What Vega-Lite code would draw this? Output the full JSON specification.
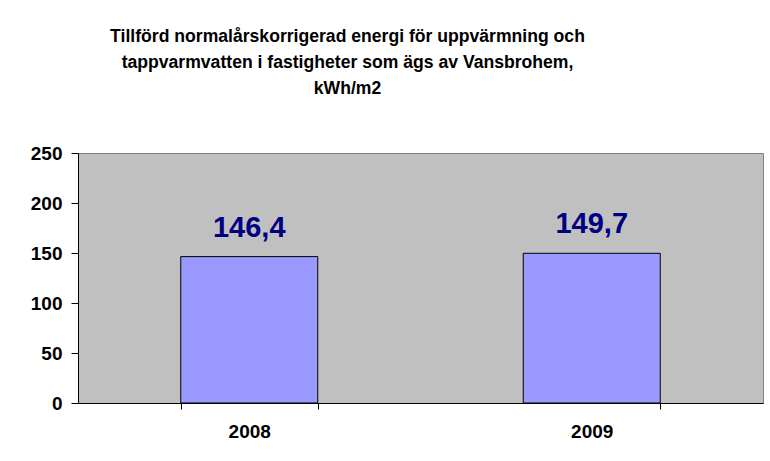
{
  "$schema": "https://vega.github.io/schema/vega-lite/v6.json",
  "autosize": "none",
  "width": 685,
  "height": 250,
  "padding": {"left": 78, "top": 153, "right": 7, "bottom": 58},
  "background": "white",
  "title": {
    "text": ["Tillförd normalårskorrigerad energi för uppvärmning och", "tappvarmvatten i fastigheter som ägs av Vansbrohem,", "kWh/m2"],
    "font": "Liberation Sans",
    "fontSize": 17.6,
    "fontWeight": "bold",
    "color": "black",
    "lineHeight": 26,
    "anchor": "middle",
    "frame": "group",
    "dx": -73,
    "offset": 46
  },
  "data": {"values": [
    {"year": "2008", "value": 146.4, "label": "146,4"},
    {"year": "2009", "value": 149.7, "label": "149,7"}
  ]},
  "encoding": {
    "x": {
      "field": "year", "type": "nominal",
      "scale": {"paddingInner": 0.6, "paddingOuter": 0.3},
      "axis": {
        "title": null, "labelAngle": 0, "labelFont": "Liberation Sans", "labelFontSize": 19,
        "labelFontWeight": "bold", "labelColor": "black", "domainColor": "black",
        "tickColor": "black", "tickBand": "extent", "tickSize": 6, "labelPadding": 13
      }
    },
    "y": {
      "field": "value", "type": "quantitative",
      "scale": {"domain": [0, 250], "nice": false},
      "axis": {
        "title": null, "values": [0, 50, 100, 150, 200, 250], "grid": false,
        "labelFont": "Liberation Sans", "labelFontSize": 19, "labelFontWeight": "bold",
        "labelColor": "black", "domainColor": "black", "tickColor": "black",
        "tickSize": 7, "labelPadding": 9
      }
    }
  },
  "layer": [
    {"mark": {"type": "bar", "color": "#9999FF", "stroke": "black", "strokeWidth": 1}},
    {"mark": {"type": "text", "dy": -14, "font": "Liberation Sans", "fontSize": 29, "fontWeight": "bold", "color": "#000080", "baseline": "bottom"},
     "encoding": {"text": {"field": "label"}}}
  ],
  "config": {
    "view": {"fill": "#C0C0C0", "stroke": "#808080", "strokeWidth": 1},
    "axis": {"domainWidth": 1, "tickWidth": 1}
  }
}
